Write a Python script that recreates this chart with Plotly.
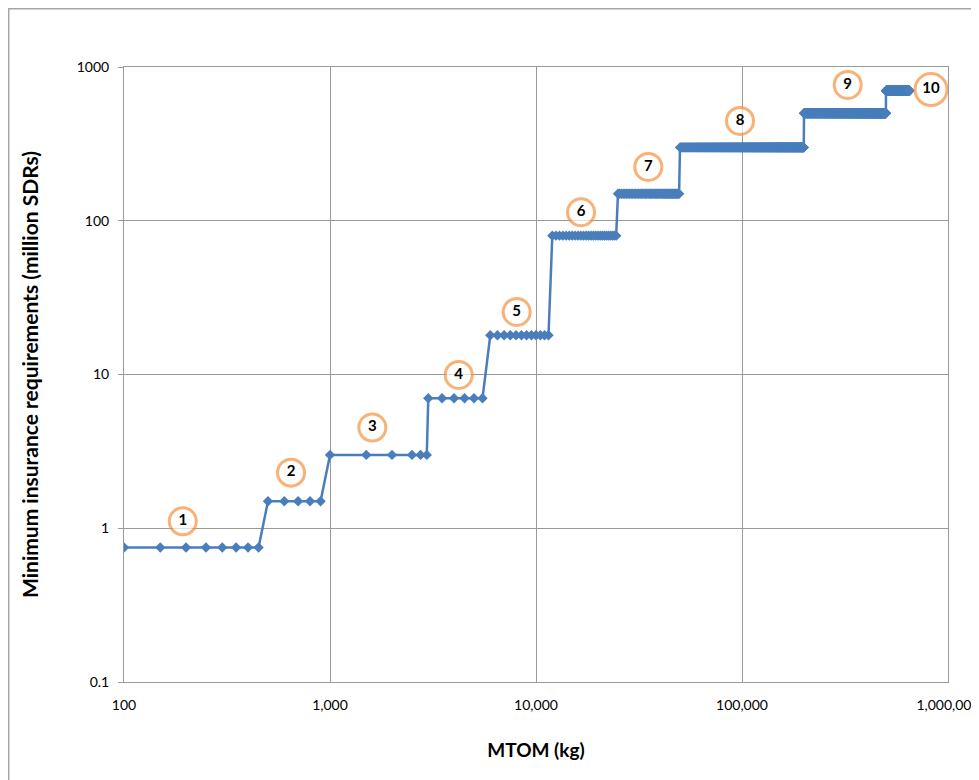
import plotly.graph_objects as go

# ---- data ----
# MTOM sample points (kg) and the minimum insurance (million SDRs) for each tier
tier_values = [0.75, 1.5, 3, 7, 18, 80, 150, 300, 500, 700]

tier1_mtom = [100, 150, 200, 250, 300, 350, 400, 450]
tier2_mtom = [500, 600, 700, 800, 900]
tier3_mtom = [1000, 1500, 2000, 2500, 2750, 2950]
tier4_mtom = [3000, 3500, 4000, 4500, 5000, 5500]

# dense tiers sampled every 500 kg: (first, last) MTOM of each tier
dense_first = [6000, 12000, 25000, 50000, 200000, 500000]
dense_last = [11500, 24500, 49500, 199500, 499500, 650000]
dense_spacing = 500

# circled tier labels
label_text = ["1", "2", "3", "4", "5", "6", "7", "8", "9", "10"]
label_x = [193, 647, 1605, 4215, 8060, 16540, 35090, 97800, 326000, 827000]
label_y = [1.11, 2.30, 4.52, 9.93, 25.5, 113.6, 224, 446, 764, 713]

x_ticks = [100, 1000, 10000, 100000, 1000000]
x_ticktext = ["100", "1,000", "10,000", "100,000", "1,000,000"]
y_ticks = [0.1, 1, 10, 100, 1000]
y_ticktext = ["0.1", "1", "10", "100", "1000"]

# ---- build series ----
mtom = []
insurance = []
for xs, v in zip([tier1_mtom, tier2_mtom, tier3_mtom, tier4_mtom], tier_values[:4]):
    mtom += xs
    insurance += [v] * len(xs)
for first, last, v in zip(dense_first, dense_last, tier_values[4:]):
    xs = list(range(first, last + 1, dense_spacing))
    mtom += xs
    insurance += [v] * len(xs)

BLUE = "#4A7EBB"
ORANGE = "#F7913D"
GRID = "#9A9A9A"
FONT = "Lato"

fig = go.Figure()
fig.add_trace(go.Scatter(
    x=mtom, y=insurance, mode="lines+markers",
    line=dict(color=BLUE, width=2.5),
    marker=dict(symbol="diamond", size=8, color=BLUE),
    showlegend=False, hoverinfo="skip",
))
fig.add_trace(go.Scatter(
    x=label_x, y=label_y, mode="markers+text",
    text=label_text, textposition="middle center",
    textfont=dict(family=FONT, size=15, color="#000000", weight="bold"),
    marker=dict(symbol="circle", size=[27] * 9 + [32], color="white",
                line=dict(color=ORANGE, width=3)),
    cliponaxis=False, showlegend=False, hoverinfo="skip",
))

fig.update_layout(
    width=971, height=772,
    margin=dict(l=116, r=31, t=59, b=98, autoexpand=False),
    paper_bgcolor="white", plot_bgcolor="white",
    font=dict(family=FONT, size=14, color="#000000"),
    xaxis=dict(
        type="log", range=[2, 6], automargin=False,
        tickvals=x_ticks, ticktext=x_ticktext,
        showgrid=True, gridcolor=GRID, gridwidth=1,
        showline=True, linecolor=GRID, linewidth=1, mirror=True,
        ticks="", ticklabelstandoff=10, ticklabeloverflow="allow",
        tickfont=dict(family=FONT, size=14),
        title=dict(text="MTOM (kg)", font=dict(family=FONT, size=19, weight="bold"),
                   standoff=31),
        zeroline=False,
    ),
    yaxis=dict(
        type="log", range=[-1, 3], automargin=False,
        tickvals=y_ticks, ticktext=y_ticktext,
        showgrid=True, gridcolor=GRID, gridwidth=1,
        showline=True, linecolor=GRID, linewidth=1, mirror=True,
        ticks="outside", ticklen=5, tickcolor=GRID, ticklabelstandoff=6,
        tickfont=dict(family=FONT, size=14),
        title=dict(text="Minimum insurance requirements (million SDRs)",
                   font=dict(family=FONT, size=21, weight="bold"), standoff=32),
        zeroline=False,
    ),
    shapes=[dict(type="rect", xref="paper", yref="paper",
                 x0=-0.1399, x1=1.2, y0=-0.3, y1=1.0947,
                 line=dict(color="#A6A6A6", width=1.5), layer="below")],
)

fig.write_html("out.html")
